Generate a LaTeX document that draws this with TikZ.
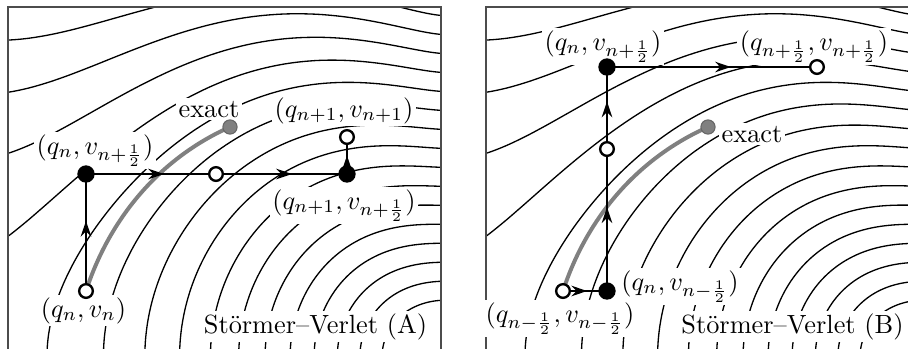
\documentclass[tikz,border=0pt]{standalone}
\usetikzlibrary{arrows.meta, decorations.markings}

% height factor of the level curves (grows towards the left)
\pgfmathdeclarefunction{stretch}{1}{%
  \pgfmathparse{1+0.22*(#1)^2/(abs(#1)+0.3)}%
}

\begin{document}
\begin{tikzpicture}[
  x=0.38pt, y=-0.38pt,
  level/.style={line width=0.5pt},
  frame/.style={line width=0.5pt, draw=black!70},
  ptlabel/.style={fill=white, inner sep=1pt, anchor=base},
  openpt/.style={
    circle, draw, fill=white, line width=0.9pt,
    minimum size=5.2pt, inner sep=0pt,
    path picture={\fill (path picture bounding box.center) circle (0.6pt);}
  },
  fullpt/.style={circle, fill=black, minimum size=6.6pt, inner sep=0pt},
  exactpt/.style={circle, fill=gray, draw=black!60, line width=0.4pt,
    minimum size=5.4pt, inner sep=0pt},
  exactpath/.style={draw=gray, line width=1.5pt},
  steparrow/.style={
    line width=0.8pt, postaction={decorate},
    decoration={markings, mark=at position #1 with
      {\arrow{Stealth[length=6pt, width=4pt]}}}
  },
  steparrow/.default=0.57,
]
\useasboundingbox (0,0) rectangle (908,348);

% Level curves in both panels
\foreach \dx in {0,478}{
  \begin{scope}[shift={(\dx,0)}]
    \begin{scope}
      \clip (8,7) rectangle (441,348);
      \foreach \lev in {3,...,14}{
        \pgfmathsetmacro\cval{0.0682*\lev}
        \draw[level] plot[domain=0:90, samples=60, variable=\ang, smooth]
          ({447-5.5013*asin(\cval*sin(\ang))},
           {357-278*\cval*cos(\ang)*stretch(0.0349066*asin(\cval*sin(\ang)))});
      }
      \foreach \lev in {15,...,18}{
        \pgfmathsetmacro\cval{0.0682*\lev}
        \draw[level] plot[domain=-2.9:0, samples=60, variable=\qq, smooth]
          ({447+157.6*\qq},
           {357-278*sqrt(\cval*\cval-(sin(deg(\qq/2)))^2)*stretch(\qq)});
      }
    \end{scope}
    \draw[frame] (8,7) rectangle (441,360);
  \end{scope}
}

% Labels (A)
\node[ptlabel] at (209,117) (exactlabA) {exact};
\node[ptlabel] at (344,117) (nextlabA) {$(q_{n+1},v_{n+1})$};
\node[ptlabel] at (95,154) (halflabA) {$(q_n,v_{n+\frac12})$};
\node[ptlabel] at (344,209) (nexthalflabA) {$(q_{n+1},v_{n+\frac12})$};
\node[ptlabel] at (83.5,317) (startlabA) {$(q_n,v_n)$};
\node[ptlabel] at (315.5,333) (titleA) {Störmer–Verlet (A)};

% Labels (B)
\node[ptlabel] at (603,50) (halflabB) {$(q_n,v_{n+\frac12})$};
\node[ptlabel] at (814,50) (midlabB) {$(q_{n+\frac12},v_{n+\frac12})$};
\node[ptlabel] at (752,142) (exactlabB) {exact};
\node[ptlabel] at (680,290) (oldhalflabB) {$(q_n,v_{n-\frac12})$};
\node[ptlabel] at (560,322) (startlabB) {$(q_{n-\frac12},v_{n-\frac12})$};
\node[ptlabel] at (792.5,333) (titleB) {Störmer–Verlet (B)};

% Points of the steps
\coordinate (startA) at (86,291);
\coordinate (halfA) at (86,174);
\coordinate (midA) at (216,174);
\coordinate (nexthalfA) at (347,174);
\coordinate (nextA) at (347,137);
\coordinate (exactA) at (230,127);
\coordinate (startB) at (563,291);
\coordinate (oldhalfB) at (607,291);
\coordinate (midB) at (607,149);
\coordinate (halfB) at (607,67);
\coordinate (nextB) at (817,67);
\coordinate (exactB) at (708,127);

% Exact flow
\draw[exactpath] (startA) to[out=72, in=204, looseness=0.9] (exactA);
\draw[exactpath] (startB) to[out=72, in=204, looseness=0.9] (exactB);

% Steps (A)
\draw[steparrow=0.6] (startA) -- (halfA);
\draw[steparrow=0.6] (halfA) -- (midA);
\draw[steparrow=0.58] (midA) -- (nexthalfA);
\draw[steparrow=0.5] (nexthalfA) -- (nextA);

% Steps (B)
\draw[steparrow=0.55] (startB) -- (oldhalfB);
\draw[steparrow=0.59] (oldhalfB) -- (midB);
\draw[steparrow=0.58] (midB) -- (halfB);
\draw[steparrow=0.59] (halfB) -- (nextB);

% Markers
\node[openpt] at (startA) (startdotA) {};
\node[fullpt] at (halfA) (halfdotA) {};
\node[openpt] at (midA) (middotA) {};
\node[fullpt] at (nexthalfA) (nexthalfdotA) {};
\node[openpt] at (nextA) (nextdotA) {};
\node[exactpt] at (exactA) (exactdotA) {};
\node[openpt] at (startB) (startdotB) {};
\node[fullpt] at (oldhalfB) (oldhalfdotB) {};
\node[openpt] at (midB) (middotB) {};
\node[fullpt] at (halfB) (halfdotB) {};
\node[openpt] at (nextB) (nextdotB) {};
\node[exactpt] at (exactB) (exactdotB) {};

\end{tikzpicture}
\end{document}
